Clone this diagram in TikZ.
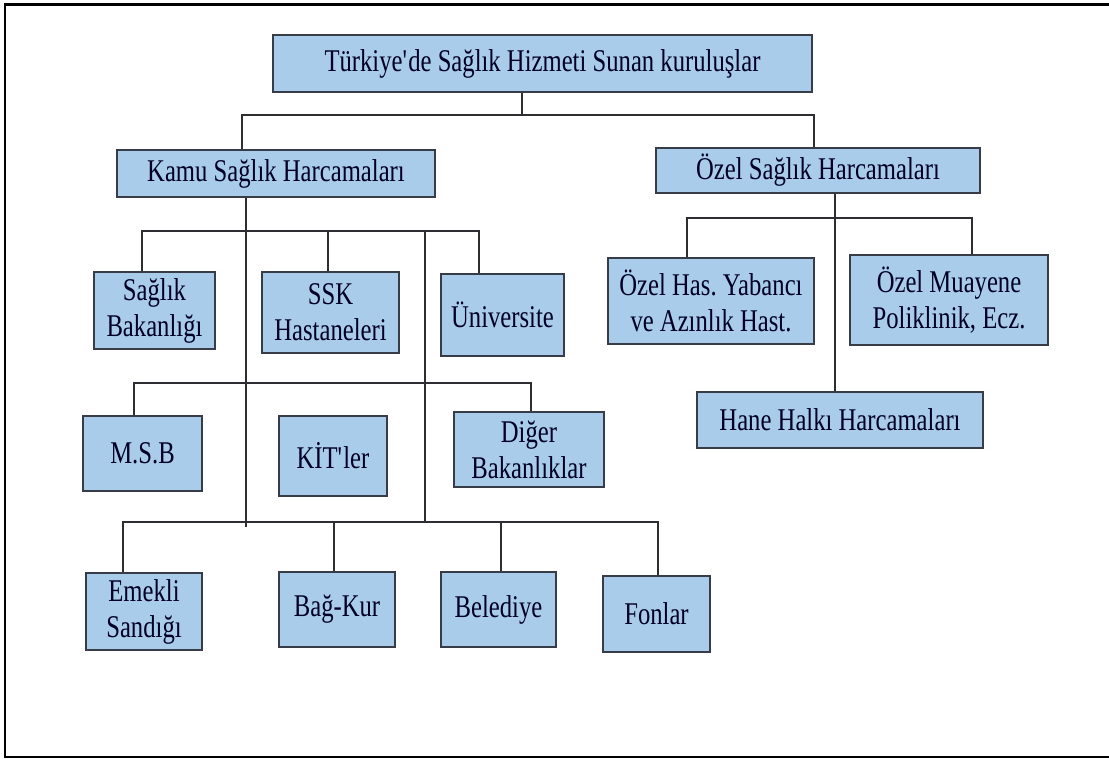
\documentclass[tikz,border=0pt]{standalone}
\usepackage{fontspec}
\setmainfont[FakeStretch=0.78]{Liberation Serif}
\definecolor{kutumavi}{RGB}{168,204,234}
\definecolor{kenar}{RGB}{55,60,70}
\definecolor{hat}{RGB}{45,45,50}
\tikzset{
  kutu/.style={draw=kenar,fill=kutumavi,line width=1pt,align=center,inner sep=1pt,
    text=black!85!blue,font=\fontsize{18}{20.5}\selectfont\frenchspacing},
  olcu/.style 2 args={minimum width=#1*0.02cm,minimum height=#2*0.02cm},
  bag/.style={hat,line width=0.8pt}
}
\begin{document}
\begin{tikzpicture}[x=0.02cm,y=-0.02cm]
\useasboundingbox (0,0) rectangle (1109,758);
% cerceve
\draw[black,line width=1.2pt] (1109,4.5)--(5,4.5)--(5,757)--(1109,757);
\draw[black,line width=2pt] (5,4.5)--(48,4.5);
\draw[black,line width=2pt] (1100,4.5)--(1109,4.5);
% ust seviye
\node[kutu,olcu={539}{57}] (turkiye) at (542.5,63.5) {Türkiye\textquotesingle de Sağlık Hizmeti Sunan kuruluşlar};
\node[kutu,olcu={318}{47}] (kamu) at (276,173.5) {Kamu Sağlık Harcamaları};
\node[kutu,olcu={324}{45}] (ozel) at (818,170.5) {Özel Sağlık Harcamaları};
% kamu kuruluslari
\node[kutu,olcu={121}{77}] (saglik) at (154.5,310.5) {Sağlık\\Bakanlığı};
\node[kutu,olcu={137}{81}] (ssk) at (330.5,312.5) {SSK\\Hastaneleri};
\node[kutu,olcu={123}{82}] (univ) at (502.5,315) {Üniversite};
\node[kutu,olcu={119}{75}] (msb) at (142.5,453.5) {M.S.B};
\node[kutu,olcu={108}{80}] (kit) at (333,456) {KİT\textquotesingle ler};
\node[kutu,olcu={150}{75}] (diger) at (529,449.5) {Diğer\\Bakanlıklar};
\node[kutu,olcu={116}{77}] (emekli) at (144,611.5) {Emekli\\Sandığı};
\node[kutu,olcu={116}{75}] (bagkur) at (337,609.5) {Bağ-Kur};
\node[kutu,olcu={115}{75}] (belediye) at (498.5,609.5) {Belediye};
\node[kutu,olcu={107}{76}] (fonlar) at (656.5,614) {Fonlar};
% ozel kuruluslar
\node[kutu,olcu={206}{86}] (ozelhas) at (711,301) {Özel Has. Yabancı\\ve Azınlık Hast.};
\node[kutu,olcu={198}{90}] (muayene) at (949,300) {Özel Muayene\\Poliklinik, Ecz.};
\node[kutu,olcu={286}{56}] (hane) at (840,420) {Hane Halkı Harcamaları};
% baglanti noktalari
\coordinate (u0) at (522,115);
\coordinate (k1) at (246,527);
\coordinate (k2) at (425,231);
\coordinate (k3) at (425,522);
\coordinate (o1) at (835,218);
% ust baglantilar
\draw[bag] (turkiye.south -| u0)--(u0);
\draw[bag] (kamu.north -| 242,0) |- (u0) -| (ozel.north -| 814,0);
% kamu dallari
\draw[bag] (kamu.south -| k1)--(k1);
\draw[bag] (saglik.north -| 142,0) |- (k2) -| (univ.north -| 479,0);
\draw[bag] (ssk.north -| 328,0)--(328,231);
\draw[bag] (k2)--(k3);
\draw[bag] (msb.north -| 134,0) |- (531,383) -- (diger.north -| 531,0);
\draw[bag] (emekli.north -| 123,0) |- (k3) -| (fonlar.north -| 658,0);
\draw[bag] (k3)--(658,522);
\draw[bag] (bagkur.north -| 334,0)--(334,522);
\draw[bag] (belediye.north -| 501,0)--(501,522);
% ozel dallari
\draw[bag] (ozel.south -| o1)--(hane.north -| o1);
\draw[bag] (ozelhas.north -| 687,0) |- (o1) -| (muayene.north -| 972,0);
\end{tikzpicture}
\end{document}
